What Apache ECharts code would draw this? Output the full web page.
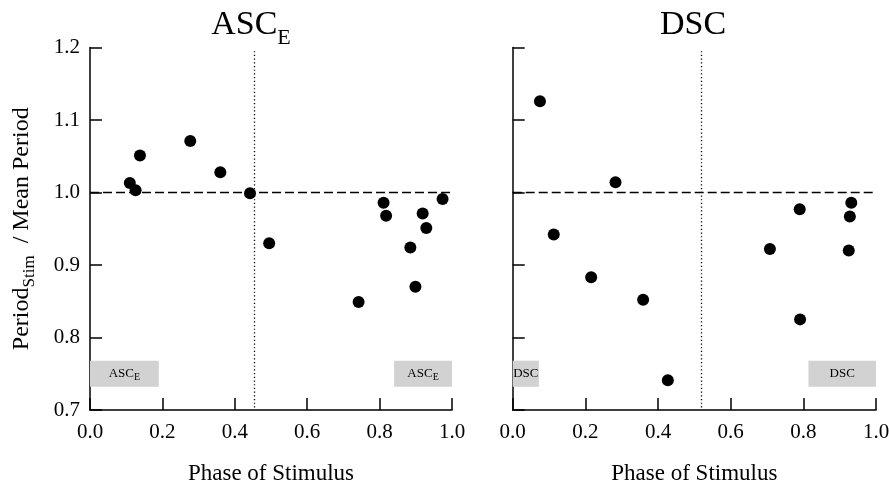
<!DOCTYPE html>
<html>
<head>
<meta charset="utf-8">
<script src="https://cdn.jsdelivr.net/npm/echarts@6/dist/echarts.min.js"></script>
<style>
  html, body { margin: 0; padding: 0; background: #fff; }
  #main { width: 889px; height: 483px; }
</style>
</head>
<body>
<div id="main"></div>
<script>
// ASC_E panel
const ascPhase = [0.110, 0.126, 0.138, 0.277, 0.360, 0.442, 0.495, 0.742, 0.811, 0.818, 0.885, 0.899, 0.919, 0.929, 0.974];
const ascRatio = [1.013, 1.003, 1.051, 1.071, 1.028, 0.999, 0.930, 0.849, 0.986, 0.968, 0.924, 0.870, 0.971, 0.951, 0.991];
// DSC panel
const dscPhase = [0.075, 0.113, 0.216, 0.283, 0.359, 0.427, 0.708, 0.790, 0.791, 0.925, 0.928, 0.932];
const dscRatio = [1.126, 0.942, 0.883, 1.014, 0.852, 0.741, 0.922, 0.977, 0.825, 0.920, 0.967, 0.986];

const xTicks = [0, 0.2, 0.4, 0.6, 0.8, 1.0];
const yTicks = [0.7, 0.8, 0.9, 1.0, 1.1, 1.2];
const refRatio = 1.0;
const ascDivider = 0.453;
const dscDivider = 0.52;
// shaded boxes [x0, x1]
const ascBoxes = [[0, 0.19], [0.84, 1.0]];
const dscBoxes = [[0, 0.072], [0.814, 1.0]];
const boxY = [0.732, 0.768];

const serif = '"Liberation Serif", "DejaVu Serif", serif';
const chart = echarts.init(document.getElementById('main'));

function xAxisFor(i) {
  return {
    gridIndex: i, type: 'value',
    min: xTicks[0], max: xTicks[xTicks.length - 1], interval: 0.2,
    axisLine: { show: true, onZero: false, lineStyle: { color: '#000', width: 1.5 } },
    axisTick: { inside: true, length: 12, lineStyle: { color: '#000', width: 1.5 } },
    axisLabel: { formatter: v => v.toFixed(1), fontFamily: serif, fontSize: 21, color: '#000', margin: 12 },
    splitLine: { show: false },
    name: 'Phase of Stimulus', nameLocation: 'middle', nameGap: 52,
    nameTextStyle: { fontFamily: serif, fontSize: 23, color: '#000' }
  };
}

function yAxisFor(i, withLabels) {
  const ax = {
    gridIndex: i, type: 'value',
    min: yTicks[0], max: yTicks[yTicks.length - 1], interval: 0.1,
    axisLine: { show: true, onZero: false, lineStyle: { color: '#000', width: 1.5 } },
    axisTick: { inside: true, length: 12, lineStyle: { color: '#000', width: 1.5 } },
    axisLabel: { show: withLabels, formatter: v => v.toFixed(1), fontFamily: serif, fontSize: 21, color: '#000', margin: 10 },
    splitLine: { show: false }
  };
  if (withLabels) {
    ax.name = '{a|Period}{b|Stim}{a|  / Mean Period}';
    ax.nameLocation = 'middle';
    ax.nameGap = 52;
    ax.nameTextStyle = {
      rich: {
        a: { fontFamily: serif, fontSize: 24, lineHeight: 32, color: '#000' },
        b: { fontFamily: serif, fontSize: 17, lineHeight: 17, verticalAlign: 'bottom', color: '#000' }
      }
    };
  }
  return ax;
}

function panelSeries(i, xs, ys, divider, boxes, boxLabel) {
  return {
    type: 'scatter', xAxisIndex: i, yAxisIndex: i,
    data: xs.map((x, k) => [x, ys[k]]),
    symbol: 'circle', symbolSize: 12,
    itemStyle: { color: '#000', opacity: 1 },
    z: 5,
    markLine: {
      silent: true, symbol: 'none', label: { show: false },
      data: [
        { yAxis: refRatio, lineStyle: { color: '#000', width: 1.3, type: [9, 4], opacity: 1 } },
        [{ coord: [divider, 1.195], lineStyle: { color: '#000', width: 1.3, type: [1.2, 2.5], opacity: 1 } },
         { coord: [divider, yTicks[0]] }]
      ]
    },
    markArea: {
      silent: true,
      itemStyle: { color: '#d2d2d2' },
      label: {
        show: true, position: 'inside', formatter: boxLabel,
        fontFamily: serif, fontSize: 13, color: '#000',
        rich: {
          a: { fontFamily: serif, fontSize: 13, lineHeight: 17, color: '#000' },
          b: { fontFamily: serif, fontSize: 10, lineHeight: 10, verticalAlign: 'bottom', color: '#000' }
        }
      },
      data: boxes.map(b => [{ xAxis: b[0], yAxis: boxY[0] }, { xAxis: b[1], yAxis: boxY[1] }])
    }
  };
}

const option = {
  animation: false,
  backgroundColor: '#fff',
  title: [
    {
      text: '{a|ASC}{b|E}', left: 251, top: 1, textAlign: 'center', padding: 0,
      textStyle: {
        fontWeight: 'normal',
        rich: {
          a: { fontFamily: serif, fontSize: 34, fontWeight: 'normal', lineHeight: 48, color: '#000' },
          b: { fontFamily: serif, fontSize: 22, fontWeight: 'normal', lineHeight: 22, verticalAlign: 'bottom', color: '#000' }
        }
      }
    },
    {
      text: 'DSC', left: 693, top: 1, textAlign: 'center', padding: 0,
      textStyle: { fontFamily: serif, fontSize: 34, lineHeight: 48, fontWeight: 'normal', color: '#000' }
    }
  ],
  grid: [
    { left: 90, top: 47.5, width: 362, height: 362.5, outerBoundsMode: 'none', containLabel: false },
    { left: 512.7, top: 47.5, width: 363.3, height: 362.5, outerBoundsMode: 'none', containLabel: false }
  ],
  xAxis: [xAxisFor(0), xAxisFor(1)],
  yAxis: [yAxisFor(0, true), yAxisFor(1, false)],
  series: [
    panelSeries(0, ascPhase, ascRatio, ascDivider, ascBoxes, '{a|ASC}{b|E}'),
    panelSeries(1, dscPhase, dscRatio, dscDivider, dscBoxes, '{a|DSC}')
  ]
};

chart.setOption(option);
</script>
</body>
</html>
